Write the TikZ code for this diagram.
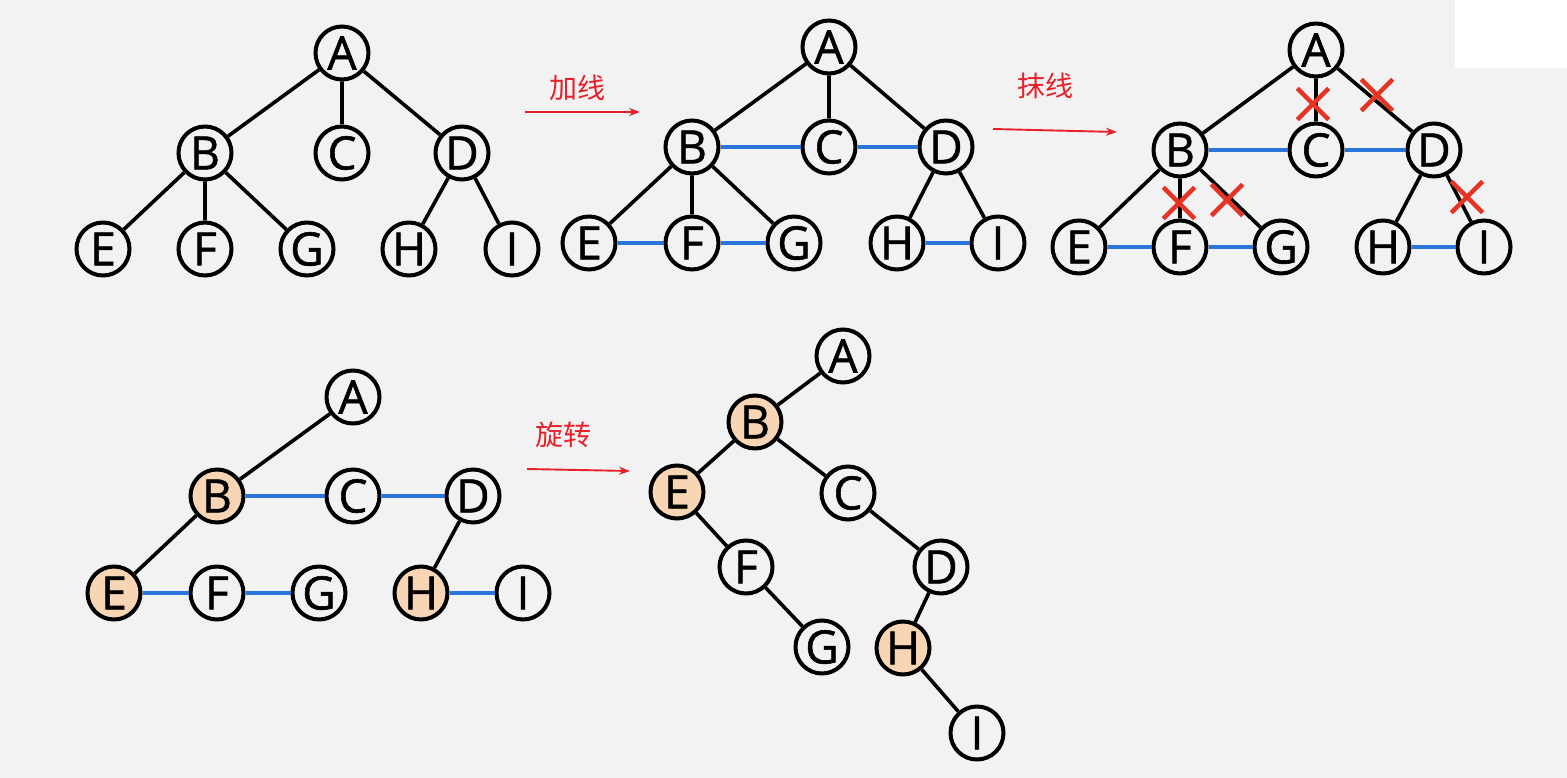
\documentclass[tikz,border=0pt]{standalone}
\usepackage{fontspec}
\usetikzlibrary{shapes.misc,arrows.meta}
\newfontfamily\nodefont[FakeBold=1.2]{Open Sans}
\newfontfamily\cjk{Noto Sans CJK SC}
\definecolor{bg}{HTML}{F2F2F2}
\definecolor{lblue}{HTML}{2A74DA}
\definecolor{arrred}{HTML}{E8202A}
\definecolor{xred}{HTML}{E63323}
\definecolor{peach}{HTML}{F8D5B5}
\tikzset{
  tn/.style={circle,draw=black,line width=4pt,fill=bg,minimum size=53pt,inner sep=0pt,
    font=\nodefont\fontsize{46}{46}\selectfont},
  hl/.style={tn,fill=peach},
  edge/.style={line width=3.6pt,black},
  thread/.style={line width=3.8pt,lblue},
  xmark/.style={cross out,draw=xred,line width=4.4pt,minimum size=27pt,inner sep=0pt},
  stepArrow/.style={draw=arrred,line width=1.9pt,-{Stealth[length=11pt,width=8pt]}},
  lbl/.style={text=arrred,font=\cjk\fontsize{28}{28}\selectfont,inner sep=0pt}
}
\begin{document}
\begin{tikzpicture}[x=1pt,y=-1pt]
\useasboundingbox (0,0) rectangle (1567,778);
\fill[bg] (0,0) rectangle (1567,778);
\fill[white] (1455,0) rectangle (1567,68);

% ---------- Tree 1 ----------
\node[tn] (a1) at (342,53) {A};
\node[tn] (b1) at (205,153) {B};
\node[tn] (c1) at (342,153) {C};
\node[tn] (d1) at (462,153) {D};
\node[tn] (e1) at (103,249) {E};
\node[tn] (f1) at (205,249) {F};
\node[tn] (g1) at (307,249) {G};
\node[tn] (h1) at (409,249) {H};
\node[tn] (i1) at (512,249) {I};
\draw[edge] (a1)--(b1) (a1)--(c1) (a1)--(d1) (b1)--(e1) (b1)--(f1) (b1)--(g1) (d1)--(h1) (d1)--(i1);

% arrow 1
\coordinate (p1s) at (525,112);
\coordinate (p1e) at (640,112);
\draw[stepArrow] (p1s) -- (p1e);
\node[lbl] (t1) at (577,88) {加线};

% ---------- Tree 2 ----------
\node[tn] (a2) at (829,47) {A};
\node[tn] (b2) at (692,147) {B};
\node[tn] (c2) at (829,147) {C};
\node[tn] (d2) at (946,147) {D};
\node[tn] (e2) at (589,243) {E};
\node[tn] (f2) at (692,243) {F};
\node[tn] (g2) at (794,243) {G};
\node[tn] (h2) at (897,243) {H};
\node[tn] (i2) at (998,243) {I};
\draw[edge] (a2)--(b2) (a2)--(c2) (a2)--(d2) (b2)--(e2) (b2)--(f2) (b2)--(g2) (d2)--(h2) (d2)--(i2);
\draw[thread] (b2)--(c2) (c2)--(d2) (e2)--(f2) (f2)--(g2) (h2)--(i2);

% arrow 2
\coordinate (p2s) at (993,129);
\coordinate (p2e) at (1117,132);
\draw[stepArrow] (p2s) -- (p2e);
\node[lbl] (t2) at (1045,86) {抹线};

% ---------- Tree 3 ----------
\node[tn] (a3) at (1316,50) {A};
\node[tn] (b3) at (1180,150) {B};
\node[tn] (c3) at (1316,150) {C};
\node[tn] (d3) at (1434,150) {D};
\node[tn] (e3) at (1079,247) {E};
\node[tn] (f3) at (1180,247) {F};
\node[tn] (g3) at (1281,247) {G};
\node[tn] (h3) at (1383,247) {H};
\node[tn] (i3) at (1484,247) {I};
\draw[edge] (a3)--(b3) (a3)--(c3) (a3)--(d3) (b3)--(e3) (b3)--(f3) (b3)--(g3) (d3)--(h3) (d3)--(i3);
\draw[thread] (b3)--(c3) (c3)--(d3) (e3)--(f3) (f3)--(g3) (h3)--(i3);
\node[xmark] (x1) at (1313,104) {};
\node[xmark] (x2) at (1377,95) {};
\node[xmark] (x3) at (1179,203) {};
\node[xmark] (x4) at (1227,200) {};
\node[xmark] (x5) at (1467,197) {};

% ---------- Tree 4 ----------
\node[tn] (a4) at (353,397) {A};
\node[hl] (b4) at (217,496) {B};
\node[tn] (c4) at (353,496) {C};
\node[tn] (d4) at (473,496) {D};
\node[hl] (e4) at (114,593) {E};
\node[tn] (f4) at (217,593) {F};
\node[tn] (g4) at (319,593) {G};
\node[hl] (h4) at (421,593) {H};
\node[tn] (i4) at (523,593) {I};
\draw[edge] (a4)--(b4) (b4)--(e4) (d4)--(h4);
\draw[thread] (b4)--(c4) (c4)--(d4) (e4)--(f4) (f4)--(g4) (h4)--(i4);

% arrow 3
\coordinate (p3s) at (527,469);
\coordinate (p3e) at (630,471);
\draw[stepArrow] (p3s) -- (p3e);
\node[lbl] (t3) at (563,435) {旋转};

% ---------- Tree 5 ----------
\node[tn] (a5) at (843,356) {A};
\node[hl] (b5) at (755,422) {B};
\node[hl] (e5) at (677,492) {E};
\node[tn] (c5) at (848,493) {C};
\node[tn] (f5) at (746,567) {F};
\node[tn] (d5) at (941,567) {D};
\node[tn] (g5) at (822,647) {G};
\node[hl] (h5) at (903,648) {H};
\node[tn] (i5) at (977,733) {I};
\draw[edge] (a5)--(b5) (b5)--(e5) (b5)--(c5) (e5)--(f5) (f5)--(g5) (c5)--(d5) (d5)--(h5) (h5)--(i5);
\end{tikzpicture}
\end{document}
